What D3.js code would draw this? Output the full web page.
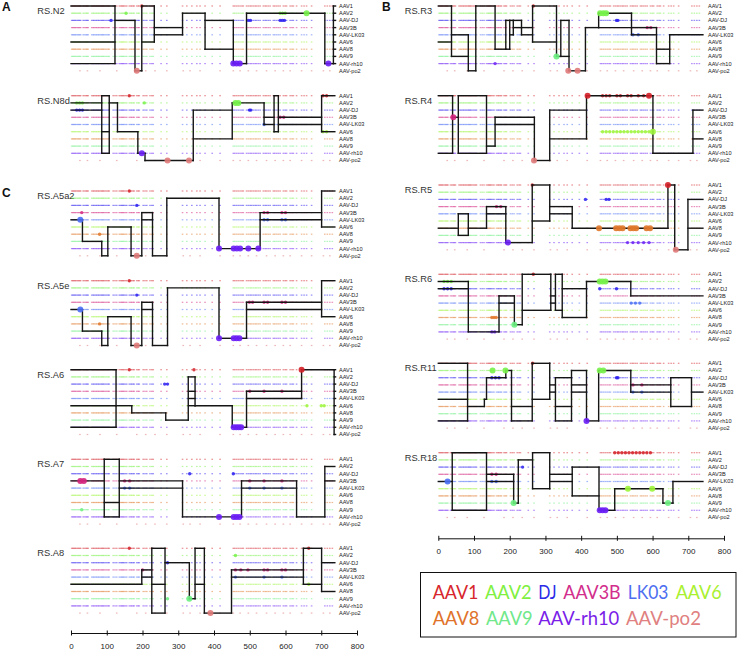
<!DOCTYPE html>
<html><head><meta charset="utf-8">
<script src="https://cdn.jsdelivr.net/npm/d3@7/dist/d3.min.js"></script>
<style>body{margin:0;background:#fff}svg{display:block}</style>
</head><body>
<svg id="chart" width="738" height="650"></svg>
<script>
// ---------- data ----------
const serotypes = ["AAV1","AAV2","AAV-DJ","AAV3B","AAV-LK03","AAV6","AAV8","AAV9","AAV-rh10","AAV-po2"];
const seroColors = ["#d42027","#77f24a","#2a1ef0","#d4237e","#4a6ef5","#9cf53a","#e0772a","#6bf080","#6a1ef5","#e07a7a"];
const legendNames = ["AAV1","AAV2","DJ","AAV3B","LK03","AAV6","AAV8","AAV9","AAV-rh10","AAV-po2"];
const legendColors = ["#d7262c","#80f040","#2a2ae8","#d22e8c","#4d6ef0","#a8f030","#e0722a","#70e88a","#7a1ee8","#e08080"];
const xTicks = [0,100,200,300,400,500,600,700,800];
const sites = [2,5,8,11,14,18,21,24,27,34,38,42,45,48,58,62,65,69,72,76,79,83,86,89,92,96,100,104,107,118,123,128,135,139,142,145,148,152,156,163,167,170,174,177,184,188,191,202,207,212,221,226,230,252,268,312,324,338,352,361,375,395,417,454,458,463,468,473,478,482,491,496,501,505,510,515,519,524,529,538,543,547,552,557,566,570,575,580,585,594,599,603,613,618,622,631,645,652,659,673,710,717,724,731];
const po2Sites = [25,46,81,128,184,209,235,268,314,333,361,417,454,473,496,519,547,571,594,613,645,673,706,724];

const leftClones = ["RS.N2","RS.N8d","RS.A5a2","RS.A5e","RS.A6","RS.A7","RS.A8"];
const rightClones = ["RS.R3","RS.R4","RS.R5","RS.R6","RS.R11","RS.R18"];

// segments: [start, end, parent rows]
const segN2 = [[0,123,[0,5,8]],[123,179,[2]],[179,198,[9]],[198,233,[0,5]],[233,312,[3,4]],[312,375,[1]],[375,454,[2,6]],[454,491,[8]],[491,710,[1]],[710,734,[8]],[734,740,[0,1,2,3,4,5,6,7,8]]];
const segN8d = [[0,86,[1,2]],[86,107,[0,5,8]],[107,130,[1]],[130,187,[5]],[187,207,[8]],[207,342,[9]],[342,451,[2,6]],[451,540,[1]],[540,568,[3,4]],[568,580,[0,5]],[580,701,[3,4]],[701,738,[0,5]]];
const segA5a2 = [[0,32,[4]],[32,86,[7]],[86,103,[9]],[103,168,[5]],[168,198,[9]],[198,228,[3,4]],[228,268,[9]],[268,414,[1]],[414,529,[8]],[529,701,[3,4]],[701,738,[0,5]]];
const segA5e = [[0,32,[4]],[32,86,[7]],[86,103,[9]],[103,168,[5]],[168,198,[9]],[198,228,[3,4]],[228,270,[9]],[270,414,[1]],[414,491,[8]],[491,701,[3,4]],[701,738,[0,5]]];
const segA6 = [[0,126,[0,5,8]],[126,170,[5]],[170,265,[6]],[265,328,[7]],[328,347,[1,3,4,5]],[347,451,[5]],[451,491,[8]],[491,645,[3,4]],[645,736,[0]],[736,740,[0,1,2,3,4,5,6,7,8,9]]];
const segA7 = [[0,93,[3]],[93,135,[0,6,8]],[135,312,[3,4]],[312,477,[8]],[477,631,[3,4]],[631,710,[8]],[710,738,[1,3]]];
const segA8 = [[0,198,[5]],[198,226,[3,4]],[226,263,[0,5,9]],[263,331,[2]],[331,347,[7]],[347,373,[0,5]],[373,449,[9]],[449,650,[3,4]],[650,701,[0,5]],[701,738,[2,6]]];
const segR3 = [[0,37,[0,5]],[37,84,[4,7]],[84,105,[9]],[105,159,[0]],[159,189,[6]],[189,200,[2,6]],[200,210,[2,4]],[210,233,[2,3]],[233,264,[3,4]],[264,331,[0,5]],[331,343,[7]],[343,366,[2,7]],[366,412,[9]],[412,449,[3]],[449,541,[1,3]],[541,611,[3,4]],[611,648,[6,8]],[648,741,[4]]];
const segR4 = [[0,40,[0,8]],[40,56,[3]],[56,135,[0,8]],[135,159,[7]],[159,269,[3,4]],[269,312,[9]],[312,415,[2,6]],[415,601,[0]],[601,713,[8]],[713,741,[2,6]]];
const segR5 = [[0,56,[6]],[56,84,[4,7]],[84,135,[6]],[135,189,[3,4]],[189,263,[8]],[263,312,[0,5]],[312,375,[3,4]],[375,643,[6]],[643,662,[0]],[662,699,[9]],[699,741,[2,6]]];
const segR6 = [[0,84,[1,2]],[84,170,[8]],[170,213,[3,4]],[213,235,[7]],[235,315,[0,5]],[315,328,[3,4]],[328,347,[0,5]],[347,415,[2,6]],[415,539,[1]],[539,741,[3]]];
const segR11 = [[0,82,[0,5,8]],[82,129,[6]],[129,135,[5]],[135,189,[2]],[189,205,[1]],[205,263,[6,8]],[263,312,[0,5]],[312,328,[3,4]],[328,373,[2,6,8]],[373,415,[1,3,4]],[415,449,[8]],[449,539,[1]],[539,651,[3,4]],[651,709,[2,6]],[709,741,[4]]];
const segR18 = [[0,39,[4]],[39,135,[0,8]],[135,211,[3,4]],[211,224,[7]],[224,264,[1]],[264,312,[0,5]],[312,375,[3,4]],[375,450,[2,6]],[450,494,[8]],[494,629,[5]],[629,657,[7]],[657,741,[4]]];

// highlighted sites: [row, position, size class]
const dotsN2 = [[9,184,2],[8,454,2],[8,463,2],[8,472,2],[8,720,2],[1,154,1],[1,659,2],[2,496,1],[2,502,1],[2,585,1],[2,591,1],[2,597,1],[1,585,1],[1,592,1],[1,599,1],[2,112,1],[0,198,1]];
const dotsN8d = [[8,198,2],[9,270,2],[9,330,2],[1,460,2],[1,468,2],[2,16,1],[2,24,1],[2,32,1],[1,16,1],[1,24,1],[1,32,1],[2,499,1],[2,503,1],[0,705,1],[0,715,1],[5,705,1],[5,715,1],[3,585,1],[3,595,1],[4,540,1],[0,163,1],[1,205,1]];
const dotsA5a2 = [[4,26,2],[9,184,2],[8,414,2],[8,455,2],[8,464,2],[8,473,2],[8,496,2],[8,524,2],[3,540,1],[3,550,1],[3,590,1],[3,600,1],[4,540,1],[4,550,1],[4,590,1],[4,600,1],[3,30,1],[0,163,1],[6,80,1],[2,184,1]];
const dotsA5e = [[4,26,2],[9,184,2],[8,414,2],[8,455,2],[8,463,2],[8,471,2],[3,499,1],[3,508,1],[3,540,1],[3,550,1],[3,590,1],[3,600,1],[2,184,1],[6,80,1],[0,163,1]];
const dotsA6 = [[0,645,2],[8,455,2],[8,462,2],[8,469,2],[8,476,2],[2,262,1],[2,270,1],[5,660,1],[5,700,1],[5,708,1],[0,163,1],[0,344,1],[3,500,1],[3,540,1],[3,590,1]];
const dotsA7 = [[3,26,2],[3,36,2],[8,414,2],[8,455,2],[8,463,2],[8,471,2],[3,150,1],[3,164,1],[4,150,1],[4,164,1],[3,500,1],[3,540,1],[3,590,1],[4,500,1],[4,540,1],[4,590,1],[2,332,1],[2,454,1],[7,30,1]];
const dotsA8 = [[7,331,2],[9,390,2],[7,270,1],[2,270,1],[0,163,1],[3,200,1],[3,460,1],[3,475,1],[3,495,1],[3,540,1],[3,550,1],[3,590,1],[3,600,1],[4,460,1],[4,540,1],[4,590,1],[0,665,1],[5,665,1],[1,460,1]];
const dotsR3 = [[7,331,2],[9,364,2],[9,390,2],[1,453,2],[1,462,2],[1,470,2],[2,499,1],[2,503,1],[8,159,1],[0,266,1],[3,585,1],[3,595,1],[4,545,1],[4,560,1]];
const dotsR4 = [[3,42,2],[9,268,2],[0,418,2],[0,590,2],[5,601,2],[5,460,1],[5,470,1],[5,480,1],[5,490,1],[5,500,1],[5,510,1],[5,520,1],[5,530,1],[5,540,1],[5,550,1],[5,560,1],[5,570,1],[5,580,1],[5,590,1],[0,460,1],[0,470,1],[0,480,1],[0,500,1],[0,510,1],[0,530,1],[0,540,1],[0,560,1],[0,575,1]];
const dotsR5 = [[8,195,2],[0,263,1],[0,643,2],[9,665,2],[6,450,2],[6,498,2],[6,507,2],[6,516,2],[6,538,2],[6,546,2],[6,554,2],[6,583,2],[6,593,2],[3,163,1],[3,175,1],[8,530,1],[8,545,1],[8,560,1],[8,575,1],[8,590,1],[2,412,1],[2,470,1],[2,478,1]];
const dotsR6 = [[1,452,2],[1,460,2],[1,468,2],[7,213,2],[6,150,1],[6,156,1],[6,162,1],[8,150,1],[8,158,1],[2,16,1],[2,26,1],[2,36,1],[1,16,1],[1,26,1],[1,36,1],[2,452,1],[2,499,1],[4,540,1],[4,552,1],[4,564,1],[0,266,1]];
const dotsR11 = [[1,152,2],[1,188,2],[8,415,2],[1,452,2],[1,462,2],[2,499,1],[2,503,1],[2,150,1],[2,160,1],[2,170,1],[0,264,1],[3,545,1],[3,570,1],[4,545,1],[4,570,1]];
const dotsR18 = [[4,26,2],[7,211,2],[2,236,1],[8,452,2],[8,460,2],[8,468,2],[5,531,2],[5,599,2],[7,643,2],[0,494,1],[0,504,1],[0,514,1],[0,524,1],[0,534,1],[0,544,1],[0,554,1],[0,564,1],[0,574,1],[0,584,1],[0,594,1],[3,150,1],[3,162,1],[4,150,1],[4,162,1]];

const cloneSegs = {"RS.N2":segN2,"RS.N8d":segN8d,"RS.A5a2":segA5a2,"RS.A5e":segA5e,"RS.A6":segA6,"RS.A7":segA7,"RS.A8":segA8,
  "RS.R3":segR3,"RS.R4":segR4,"RS.R5":segR5,"RS.R6":segR6,"RS.R11":segR11,"RS.R18":segR18};
const cloneDots = {"RS.N2":dotsN2,"RS.N8d":dotsN8d,"RS.A5a2":dotsA5a2,"RS.A5e":dotsA5e,"RS.A6":dotsA6,"RS.A7":dotsA7,"RS.A8":dotsA8,
  "RS.R3":dotsR3,"RS.R4":dotsR4,"RS.R5":dotsR5,"RS.R6":dotsR6,"RS.R11":dotsR11,"RS.R18":dotsR18};

// ---------- layout ----------
const svg = d3.select("#chart");
const FONT = "'Liberation Sans', Arial, sans-serif";
const rowGap = 7.2;
const leftTops = [6, 95.7, 191, 280.7, 369.7, 459.3, 548.3];
const rightTops = [6, 95.7, 185, 274.3, 363.3, 452.7];
const xLeft = d3.scaleLinear().domain([0,800]).range([71,357]);
const xRight = d3.scaleLinear().domain([0,800]).range([438.3,724]);

function drawClone(name, top, x, titleX, labelX){
  const g = svg.append("g");
  const y = d3.scaleLinear().domain([0,1]).range([top, top+rowGap]);
  g.append("text").attr("x", titleX).attr("y", top+7.8).text(name)
    .attr("font-family", FONT).attr("font-size", 9.3).attr("fill","#333");
  serotypes.forEach((s,i)=>{
    g.append("text").attr("x",labelX).attr("y",y(i)).attr("dy","0.35em").text(s)
      .attr("font-family",FONT).attr("font-size",5.6).attr("fill","#222");
  });
  serotypes.forEach((s,i)=>{
    const arr = i===9 ? po2Sites : sites;
    g.append("g").selectAll("rect").data(arr).join("rect")
      .attr("x",d=>x(d)-0.8).attr("y",y(i)-0.6).attr("width",1.6).attr("height",1.2)
      .attr("fill",seroColors[i]).attr("opacity", i===9?0.55:0.5);
  });
  const dots = cloneDots[name];
  g.append("g").selectAll("circle").data(dots.filter(d=>d[2]===1)).join("circle")
    .attr("cx",d=>x(d[1])).attr("cy",d=>y(d[0])).attr("r",1.7)
    .attr("fill",d=>seroColors[d[0]]).attr("opacity",0.85);
  const segs = cloneSegs[name];
  const lg = g.append("g").attr("stroke","#151515").attr("stroke-width",1.4).attr("fill","none").attr("stroke-linecap","square");
  segs.forEach((s,k)=>{
    s[2].forEach(r=>{
      lg.append("line").attr("x1",x(s[0])).attr("x2",x(s[1])).attr("y1",y(r)).attr("y2",y(r));
    });
    if(k<segs.length-1){
      const u = s[2].concat(segs[k+1][2]);
      lg.append("line").attr("x1",x(s[1])).attr("x2",x(s[1]))
        .attr("y1",y(d3.min(u))).attr("y2",y(d3.max(u)));
    }
  });
  g.append("g").selectAll("circle").data(dots.filter(d=>d[2]===2)).join("circle")
    .attr("cx",d=>x(d[1])).attr("cy",d=>y(d[0])).attr("r",3)
    .attr("fill",d=>seroColors[d[0]]).attr("opacity",0.9);
}

leftClones.forEach((n,i)=>drawClone(n, leftTops[i], xLeft, 37.3, 339));
rightClones.forEach((n,i)=>drawClone(n, rightTops[i], xRight, 404.7, 708));

[["A",2,11],["B",382,11],["C",2,197]].forEach(p=>{
  svg.append("text").attr("x",p[1]).attr("y",p[2]).text(p[0])
    .attr("font-family",FONT).attr("font-weight","bold").attr("font-size",12).attr("fill","#111");
});

function drawAxis(x, yPos){
  const ax = svg.append("g").attr("transform",`translate(0,${yPos})`)
    .call(d3.axisBottom(x).tickValues(xTicks).tickSizeInner(2.5).tickSizeOuter(0).tickFormat(d3.format("d")));
  ax.select(".domain").attr("stroke","#111").attr("stroke-width",1);
  ax.selectAll(".tick line").attr("y1",-2.5).attr("y2",2.5).attr("stroke","#111");
  ax.selectAll(".tick text").attr("y",15.5).attr("dy",0).attr("font-size",8).attr("font-family",FONT).attr("fill","#222");
}
drawAxis(xLeft, 633);
drawAxis(xRight, 538.3);

svg.append("rect").attr("x",420.5).attr("y",572.5).attr("width",315.5).attr("height",64.5)
  .attr("fill","#fff").attr("stroke","#111").attr("stroke-width",1);
const legX = [432.7,485,538.3,563.3,627.7,675.7,432.7,486,538.3,626];
const legW = [45.7,46.7,18.3,57.3,40.7,46,46.7,46.7,81,75];
legendNames.forEach((n,i)=>{
  svg.append("text").attr("x",legX[i]).attr("y", i<6 ? 598.5 : 624.5).text(n)
    .attr("font-family","Lato, 'Open Sans', sans-serif").attr("font-size",19)
    .attr("textLength",legW[i]).attr("lengthAdjust","spacingAndGlyphs")
    .attr("fill",legendColors[i]);
});
</script>
</body></html>
